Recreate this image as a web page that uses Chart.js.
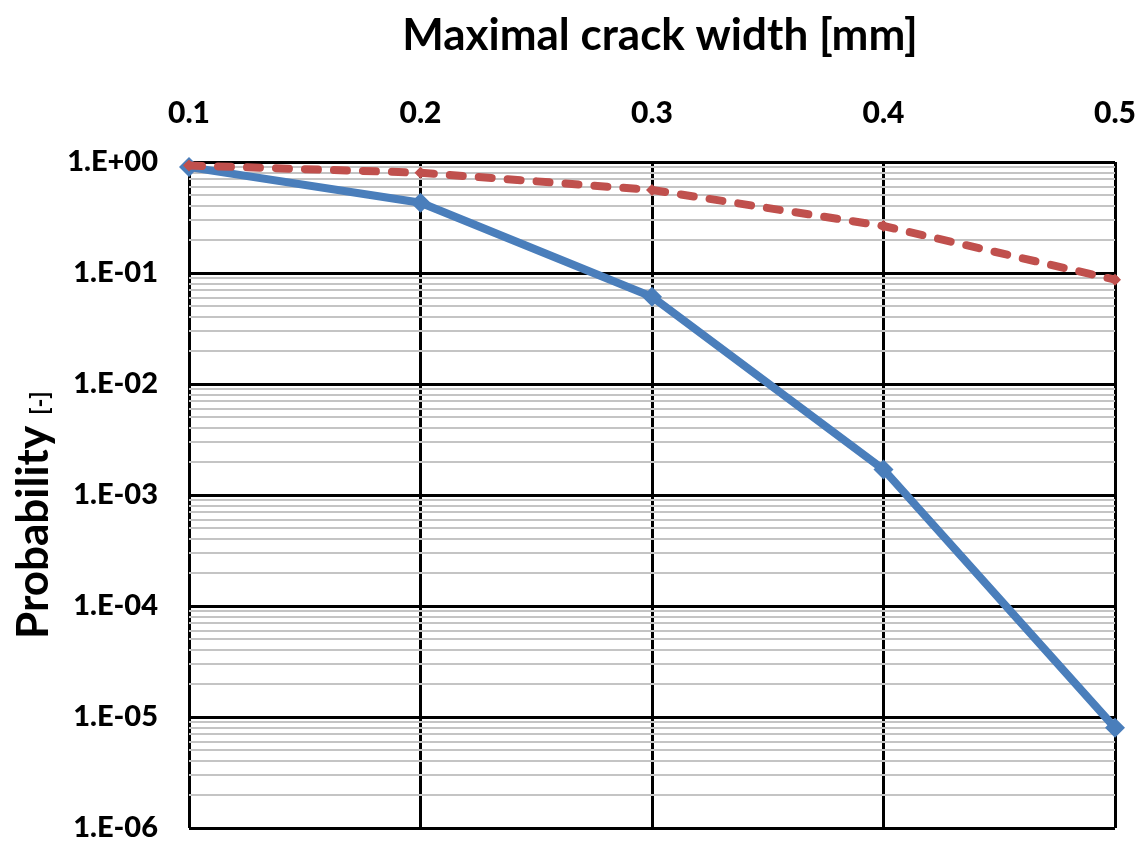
<!DOCTYPE html>
<html>
<head>
<meta charset="utf-8">
<script src="https://cdn.jsdelivr.net/npm/chart.js@4/dist/chart.umd.min.js"></script>
<style>
  html, body { margin: 0; padding: 0; background: #fff; }
  #wrap { width: 1142px; height: 843px; position: relative; }
</style>
</head>
<body>
<div id="wrap"><canvas id="c" width="1142" height="843"></canvas></div>
<script>
// ---- data ----
const crackWidths = [0.1, 0.2, 0.3, 0.4, 0.5];
const probSolid = [0.90, 0.43, 0.061, 0.0017, 0.000008];
const probDashed = [0.93, 0.80, 0.56, 0.265, 0.087];
const yDecades = [-6, -5, -4, -3, -2, -1, 0];
const xTitle = 'Maximal crack width [mm]';
const yTitleMain = 'Probability';
const yTitleUnit = '[-]';

const FONT = 'Lato, "Open Sans", sans-serif';

function isMajor(v) {
  const l = Math.log10(v);
  return Math.abs(l - Math.round(l)) < 1e-9;
}
function fmtExp(v) {
  const e = Math.round(Math.log10(v));
  const s = e < 0 ? '-' : '+';
  const a = Math.abs(e);
  return '1.E' + s + (a < 10 ? '0' + a : '' + a);
}

const titlesPlugin = {
  id: 'titles',
  afterDraw(chart) {
    const ctx = chart.ctx;
    ctx.save();
    ctx.fillStyle = '#000';
    ctx.font = 'bold 44px ' + FONT;
    ctx.textAlign = 'center';
    ctx.textBaseline = 'middle';
    ctx.fillText(xTitle, 660, 36);
    // rotated y title
    ctx.translate(33, 515);
    ctx.rotate(-Math.PI / 2);
    ctx.font = 'bold 44px ' + FONT;
    const w1 = ctx.measureText(yTitleMain + ' ').width;
    ctx.font = 'bold 24px ' + FONT;
    const w2 = ctx.measureText(yTitleUnit).width;
    const start = -(w1 + w2) / 2;
    ctx.textAlign = 'left';
    ctx.textBaseline = 'alphabetic';
    ctx.font = 'bold 44px ' + FONT;
    ctx.fillText(yTitleMain, start, 15);
    ctx.font = 'bold 24px ' + FONT;
    ctx.fillText(yTitleUnit, start + w1, 15);
    ctx.restore();
  }
};

new Chart(document.getElementById('c'), {
  type: 'line',
  data: {
    datasets: [
      {
        data: crackWidths.map((x, i) => ({ x: x, y: probDashed[i] })),
        borderColor: '#c0504d',
        backgroundColor: '#c0504d',
        borderWidth: 8,
        borderDash: [13, 16],
        borderCapStyle: 'round',
        pointStyle: 'rectRot',
        pointRadius: 6,
        pointBorderWidth: 0,
        tension: 0,
        clip: false
      },
      {
        data: crackWidths.map((x, i) => ({ x: x, y: probSolid[i] })),
        borderColor: '#4a7ebb',
        backgroundColor: '#4a7ebb',
        borderWidth: 8,
        pointStyle: 'rectRot',
        pointRadius: 10,
        pointBorderWidth: 0,
        tension: 0,
        clip: false
      }
    ]
  },
  options: {
    responsive: false,
    animation: false,
    layout: { padding: { left: 0, top: 0, right: 27, bottom: 15 } },
    plugins: { legend: { display: false }, tooltip: { enabled: false }, title: { display: false } },
    scales: {
      x: {
        type: 'linear',
        position: 'top',
        min: crackWidths[0],
        max: crackWidths[crackWidths.length - 1],
        afterBuildTicks(scale) { scale.ticks = crackWidths.map(v => ({ value: v })); },
        afterFit(scale) {
          scale.height = 162;
          scale.paddingLeft = 0; scale.paddingRight = 0;
        },
        ticks: {
          autoSkip: false,
          maxRotation: 0,
          padding: 31,
          color: '#000',
          font: { family: FONT, size: 30, weight: '900' },
          callback: v => Number(v).toFixed(1)
        },
        grid: { color: '#000', lineWidth: 3, drawTicks: false },
        border: { display: false }
      },
      y: {
        type: 'logarithmic',
        min: Math.pow(10, yDecades[0]),
        max: Math.pow(10, yDecades[yDecades.length - 1]),
        afterBuildTicks(scale) {
          const t = [];
          for (let k = 0; k < yDecades.length; k++) {
            const e = yDecades[k];
            if (k === yDecades.length - 1) { t.push({ value: Math.pow(10, e) }); break; }
            for (let m = 1; m <= 9; m++) t.push({ value: m * Math.pow(10, e) });
          }
          scale.ticks = t;
        },
        afterFit(scale) {
          scale.width = 189;
          scale.paddingTop = 0; scale.paddingBottom = 0;
        },
        ticks: {
          autoSkip: false,
          padding: 31,
          color: '#000',
          font: { family: FONT, size: 29, weight: '900' },
          callback: v => isMajor(v) ? fmtExp(v) : ''
        },
        grid: {
          drawTicks: false,
          color: c => isMajor(c.tick.value) ? '#000' : '#c4c4c4',
          lineWidth: c => isMajor(c.tick.value) ? 3 : 2
        },
        border: { display: false }
      }
    }
  },
  plugins: [titlesPlugin]
});
</script>
</body>
</html>
